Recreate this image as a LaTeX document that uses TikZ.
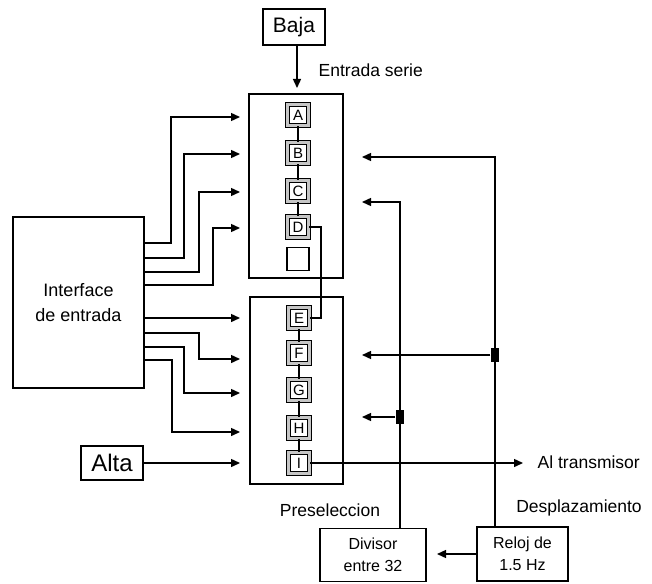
\documentclass[tikz,border=0pt]{standalone}
\usepackage{fontspec}
\setmainfont{Liberation Sans}
\usetikzlibrary{arrows.meta}
\begin{document}
\begin{tikzpicture}[x=1pt,y=-1pt,
  line width=1.4pt,
  arr/.style={-{Triangle[length=9pt,width=8pt]}},
  box/.style={draw, inner sep=0pt, anchor=center},
  reg/.style={draw, double=gray!45, double distance=2.4pt, line width=1.1pt,
    minimum width=21pt, minimum height=21pt, inner sep=0pt,
    font=\fontsize{15}{15}\selectfont},
  dot/.style={fill=black, inner sep=0pt, minimum width=8pt, minimum height=14pt},
  lbl/.style={inner sep=0pt, font=\fontsize{17.5}{18}\selectfont}
]
\useasboundingbox (0,0) rectangle (652,583);
\fill[white] (0,0) rectangle (652,583);

% main blocks
\node[box, minimum width=62pt, minimum height=36pt, font=\fontsize{21}{22}\selectfont] (baja) at (294,27) {Baja};
\node[box, minimum width=94pt, minimum height=184pt] (up) at (296,186) {};
\node[box, minimum width=93pt, minimum height=187pt] (lo) at (296.5,390.5) {};
\node[box, minimum width=131pt, minimum height=171pt, align=center, font=\fontsize{18}{25}\selectfont] (intf) at (78.5,302.5) {Interface\\de entrada};
\node[box, minimum width=62pt, minimum height=34pt, font=\fontsize{24}{24}\selectfont] (alta) at (112,463) {Alta};
\node[box, minimum width=106pt, minimum height=53pt, align=center, font=\fontsize{16}{22}\selectfont] (div) at (373,555) {Divisor\\entre 32};
\node[box, minimum width=91pt, minimum height=54pt, align=center, font=\fontsize{16}{22}\selectfont] (reloj) at (522.5,554) {Reloj de\\1.5 Hz};

% register cells
\node[reg] (A) at (298,115) {A};
\node[reg] (B) at (298,153) {B};
\node[reg] (C) at (298,191) {C};
\node[reg] (D) at (298,227) {D};
\node[box, minimum width=22pt, minimum height=23pt] (X) at (298,259) {};
\node[reg] (E) at (299,318) {E};
\node[reg] (F) at (299,353) {F};
\node[reg] (G) at (299,390) {G};
\node[reg] (H) at (299,428) {H};
\node[reg] (I) at (299,463) {I};

\draw (A) -- (B); \draw (B) -- (C); \draw (C) -- (D);
\draw (D.east) -- ++(12,0) |- (E.east);
\draw (E) -- (F); \draw (F) -- (G); \draw (G) -- (H); \draw (H) -- (I);

% labels
\node[lbl, anchor=west] (es) at (318,70) {Entrada serie};
\node[lbl] (pre) at (330,510) {Preseleccion};
\node[lbl] (des) at (579,508) {Desplazamiento};
\node[lbl, anchor=west] (alt) at (537,462) {Al transmisor};

% arrow targets
\coordinate (b1) at (297,88);
\coordinate (t1) at (240,117);
\coordinate (t2) at (240,154);
\coordinate (t3) at (240,192);
\coordinate (t4) at (240,228);
\coordinate (t5) at (240,318);
\coordinate (t6) at (240,359);
\coordinate (t7) at (240,393);
\coordinate (t8) at (240,432);
\coordinate (t9) at (240,463);
\coordinate (tx) at (523,463);
\coordinate (r1) at (362,202);
\coordinate (r2) at (362,417);
\coordinate (r3) at (362,157);
\coordinate (r4) at (362,355);
\coordinate (r5) at (437,554);

\draw[arr] ([xshift=3pt]baja.south) -- (b1);

\draw[arr] (intf.east |- 0,243) -| ([xshift=-69pt]t1) -- (t1);
\draw[arr] (intf.east |- 0,258) -| ([xshift=-56pt]t2) -- (t2);
\draw[arr] (intf.east |- 0,272) -| ([xshift=-41pt]t3) -- (t3);
\draw[arr] (intf.east |- 0,285) -| ([xshift=-27pt]t4) -- (t4);
\draw[arr] (intf.east |- t5) -- (t5);
\draw[arr] (intf.east |- 0,333) -| ([xshift=-41pt]t6) -- (t6);
\draw[arr] (intf.east |- 0,347) -| ([xshift=-56pt]t7) -- (t7);
\draw[arr] (intf.east |- 0,360) -| ([xshift=-68pt]t8) -- (t8);
\draw[arr] (alta.east) -- (t9);

\draw[arr] (I.east) -- (tx);

\draw[arr] ([xshift=27pt]div.north) |- (r1);
\draw[arr] ([xshift=-27.5pt]reloj.north) |- (r3);
\node[dot] (j1) at (400,417) {};
\node[dot] (j2) at (495,355) {};
\draw[arr] (j1) -- (r2);
\draw[arr] (j2) -- (r4);
\draw[arr] (reloj.west) -- (r5);
\end{tikzpicture}
\end{document}
